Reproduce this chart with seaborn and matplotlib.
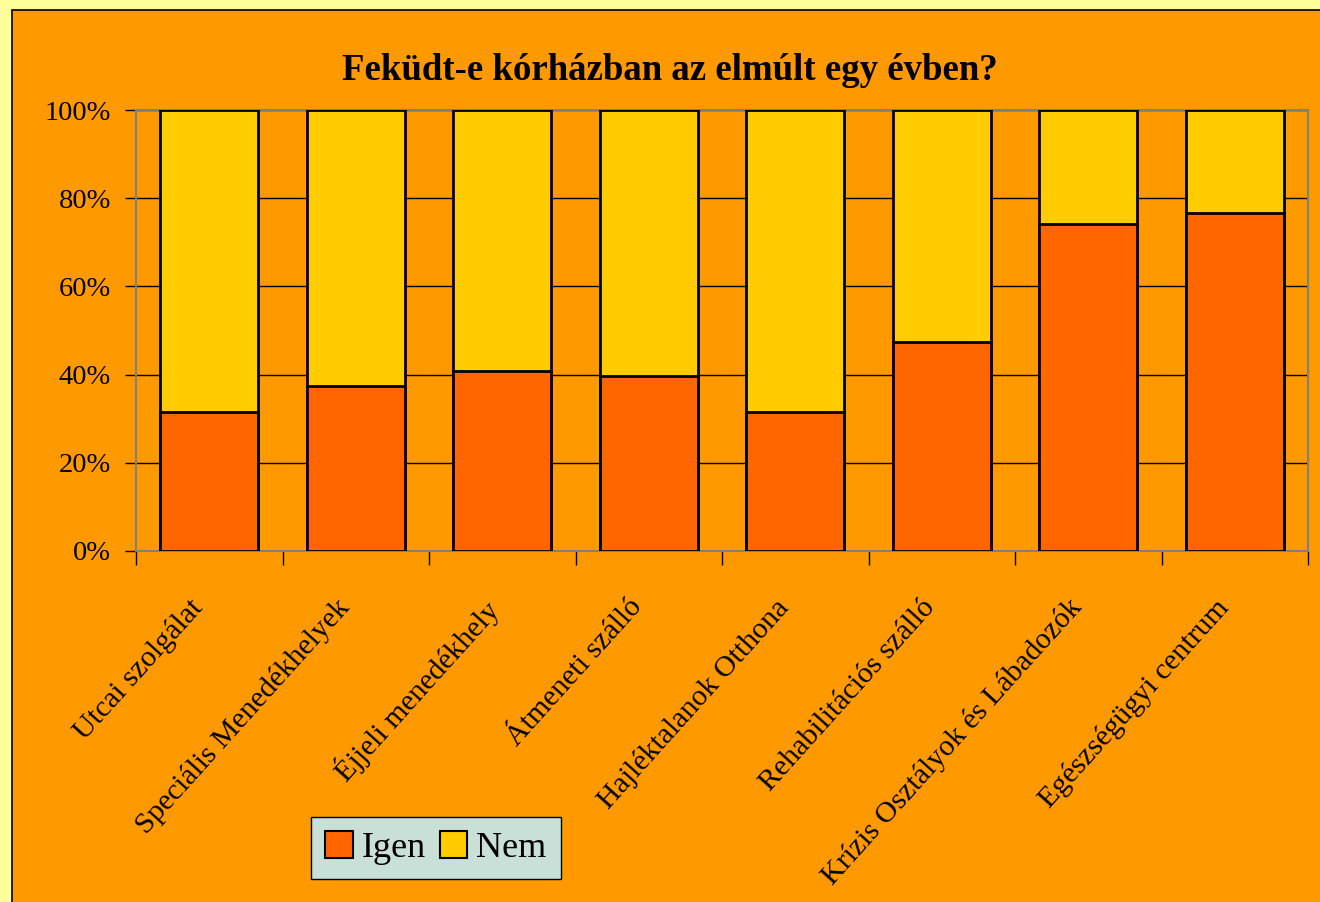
import matplotlib
matplotlib.use('Agg')
import matplotlib.pyplot as plt
from matplotlib.patches import Rectangle, Patch
from matplotlib.ticker import FixedLocator, PercentFormatter
import seaborn as sns
import pandas as pd

categories = ['Utcai szolgálat', 'Speciális Menedékhelyek', 'Éjjeli menedékhely',
              'Átmeneti szálló', 'Hajléktalanok Otthona', 'Rehabilitációs szálló',
              'Krízis Osztályok és Lábadozók', 'Egészségügyi centrum']
igen = [31.5, 37.4, 40.8, 39.7, 31.5, 47.4, 74.1, 76.6]
nem = [100 - v for v in igen]

df = pd.DataFrame({'cat': categories, 'igen': igen,
                   'total': [a + b for a, b in zip(igen, nem)]})

sns.set_style('white')
plt.rcParams['font.family'] = ['Liberation Serif', 'DejaVu Serif']
plt.rcParams['text.color'] = 'black'
plt.rcParams['xtick.color'] = 'black'
plt.rcParams['ytick.color'] = 'black'

fig = plt.figure(figsize=(13.2, 9.02), dpi=100, facecolor='#FFFF99')
fig.patches.append(Rectangle((12 / 1320, -0.01), 1.02, (902 - 10) / 902 + 0.01,
                             transform=fig.transFigure, facecolor='#FF9900',
                             edgecolor='black', linewidth=1.2, zorder=-1))
ax = fig.add_axes([136 / 1320, 1 - 551 / 902, (1308 - 136) / 1320, (551 - 110) / 902])
ax.set_zorder(1)
ax.set_facecolor('#FF9900')

sns.barplot(data=df, x='cat', y='total', color='#FFCC00', edgecolor='black',
            linewidth=2, width=0.67, saturation=1, ax=ax, zorder=3)
sns.barplot(data=df, x='cat', y='igen', color='#FF6600', edgecolor='black',
            linewidth=2, width=0.67, saturation=1, ax=ax, zorder=3)

ax.set_xlim(-0.5, len(categories) - 0.5)
ax.set_ylim(0, 100)
ax.yaxis.set_major_locator(FixedLocator([0, 20, 40, 60, 80, 100]))
ax.yaxis.set_major_formatter(PercentFormatter(decimals=0))
ax.grid(axis='y', color='black', linewidth=1, zorder=1)
ax.set_axisbelow(True)
for s in ax.spines.values():
    s.set_color('#808080')
    s.set_linewidth(1.5)
    s.set_visible(True)

ax.tick_params(axis='y', direction='out', length=8, width=1, color='black',
               labelsize=20.5, pad=10, left=True)
ax.tick_params(axis='x', which='major', length=0, pad=31, labelsize=21.5)
# label anchors sit a little left of the category centre
ax.set_xticks([i - 0.14 for i in range(len(categories))])
ax.set_xticklabels(categories, rotation=48, ha='right', rotation_mode='anchor')
ax.xaxis.set_minor_locator(FixedLocator([i - 0.5 for i in range(len(categories) + 1)]))
ax.tick_params(axis='x', which='minor', direction='out', length=10, width=1,
               color='black', bottom=True)
ax.set_xlabel('')
ax.set_ylabel('')

fig.text(670 / 1320, 1 - 70 / 902, 'Feküdt-e kórházban az elmúlt egy évben?',
         ha='center', va='center', fontsize=26.5, fontweight='bold')

handles = [Patch(facecolor='#FF6600', edgecolor='black', linewidth=1.5, label='Igen'),
           Patch(facecolor='#FFCC00', edgecolor='black', linewidth=1.5, label='Nem')]
leg = fig.legend(handles=handles, loc='center', bbox_to_anchor=(436 / 1320, 1 - 848 / 902),
                 ncol=2, fontsize=26, frameon=True, fancybox=False, handlelength=0.75,
                 handleheight=0.75, handletextpad=0.25, columnspacing=0.4,
                 borderpad=0.4)
leg.get_frame().set_facecolor('#C8E0D8')
leg.get_frame().set_edgecolor('black')
leg.get_frame().set_alpha(1)

fig.savefig('out.png', dpi=100, facecolor=fig.get_facecolor())
